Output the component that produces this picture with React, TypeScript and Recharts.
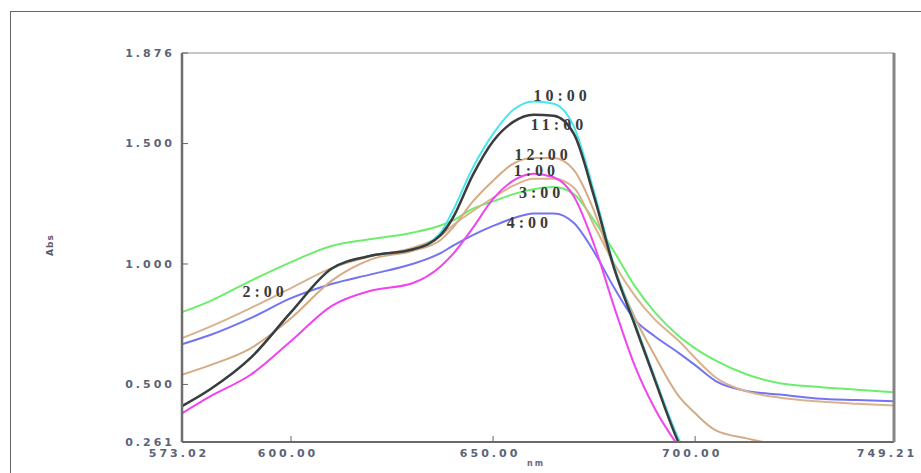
import { LineChart, Line, XAxis, YAxis, ReferenceDot } from "recharts";

const wavelength = [573.02, 580, 590, 600, 610, 620, 630, 637, 640, 645, 650, 655, 660, 665, 670, 675, 680, 685, 690, 696, 700, 705, 713, 721, 730, 740, 749.21];

const abs1000 = [0.41, 0.48, 0.61, 0.8, 0.98, 1.035, 1.06, 1.13, 1.22, 1.4, 1.54, 1.64, 1.675, 1.665, 1.57, 1.3, 0.99, 0.76, 0.53, 0.27, 0.14, null, null, null, null, null, null];
const abs1100 = [0.41, 0.48, 0.61, 0.8, 0.98, 1.035, 1.06, 1.12, 1.19, 1.37, 1.51, 1.59, 1.62, 1.615, 1.54, 1.28, 0.98, 0.75, 0.52, 0.255, 0.13, null, null, null, null, null, null];
const abs1200 = [0.54, 0.58, 0.65, 0.775, 0.93, 1.02, 1.054, 1.1, 1.15, 1.26, 1.346, 1.417, 1.44, 1.44, 1.39, 1.22, 0.98, 0.78, 0.62, 0.45, 0.38, 0.31, 0.275, 0.248, null, null, null];
const abs0100 = [0.38, 0.45, 0.54, 0.68, 0.825, 0.89, 0.92, 0.99, 1.04, 1.15, 1.27, 1.346, 1.375, 1.36, 1.28, 1.08, 0.82, 0.58, 0.4, 0.24, null, null, null, null, null, null, null];
const abs0200 = [0.692, 0.74, 0.817, 0.9, 0.983, 1.033, 1.067, 1.117, 1.16, 1.22, 1.275, 1.325, 1.354, 1.354, 1.317, 1.16, 1.0, 0.87, 0.77, 0.68, 0.61, 0.53, 0.47, 0.445, 0.43, 0.42, 0.413];
const abs0300 = [0.8, 0.846, 0.93, 1.008, 1.075, 1.104, 1.13, 1.16, 1.18, 1.23, 1.26, 1.29, 1.31, 1.32, 1.29, 1.18, 1.05, 0.91, 0.8, 0.7, 0.65, 0.6, 0.54, 0.505, 0.49, 0.478, 0.467];
const abs0400 = [0.667, 0.705, 0.775, 0.858, 0.917, 0.958, 1.0, 1.045, 1.075, 1.12, 1.158, 1.19, 1.21, 1.21, 1.17, 1.05, 0.9, 0.77, 0.7, 0.63, 0.58, 0.515, 0.472, 0.458, 0.442, 0.435, 0.43];

const xTicks = [573.02, 600, 650, 700, 749.21];
const yTicks = [0.261, 0.5, 1.0, 1.5, 1.876];

// curve name tags: text, wavelength, absorbance
const tagText = ["10:00", "11:00", "12:00", "1:00", "3:00", "4:00", "2:00"];
const tagX = [667.1, 666.3, 662.4, 660.7, 662.0, 659.0, 593.6];
const tagY = [1.70, 1.579, 1.454, 1.39, 1.296, 1.175, 0.888];

const series = [
  { key: "t0300", values: abs0300, color: "#6cee6c" },
  { key: "t0400", values: abs0400, color: "#7474f2" },
  { key: "t0200", values: abs0200, color: "#d9b38e" },
  { key: "t1200", values: abs1200, color: "#d6ab84" },
  { key: "t0100", values: abs0100, color: "#f044ee" },
  { key: "t1000", values: abs1000, color: "#48e6ee" },
  { key: "t1100", values: abs1100, color: "#3c3c3c" },
];

const rows = wavelength.map((w, i) => {
  const r: Record<string, number | null> = { w };
  series.forEach((s) => (r[s.key] = s.values[i]));
  return r;
});

const tickFont = {
  fontFamily: "DejaVu Sans",
  fontSize: 11,
  fontWeight: 700,
  fill: "#5c6378",
};

// bottom tick label, last one nudged in so it stays on the page
const XTick = (p: any) => {
  const last = p.index === xTicks.length - 1;
  return (
    <text
      x={p.x - (last ? 7 : 3)}
      y={p.y}
      dy="0.71em"
      textAnchor="middle"
      letterSpacing={3}
      {...tickFont}
    >
      {Number(p.payload.value).toFixed(2)}
    </text>
  );
};

export default function App() {
  return (
    <div style={{ position: "absolute", left: 0, top: 0, width: 921, height: 473, overflow: "hidden", background: "#fff" }}>
      <div style={{ position: "absolute", left: 10, top: 11, width: 1000, height: 1000, borderTop: "1px solid #666", borderLeft: "1px solid #666" }} />
      <LineChart width={921} height={473} data={rows} margin={{ top: 47, right: 17, bottom: 6, left: 122 }}>
        <XAxis
          dataKey="w"
          type="number"
          domain={[573.02, 749.21]}
          ticks={xTicks}
          interval={0}
          height={25}
          tick={XTick}
          tickSize={-6}
          tickMargin={13}
          tickLine={{ stroke: "#666" }}
          axisLine={{ stroke: "#6a6a6a", strokeWidth: 2 }}
        />
        <XAxis
          xAxisId="top"
          orientation="top"
          type="number"
          domain={[573.02, 749.21]}
          ticks={[600, 650, 700]}
          height={6}
          tick={false}
          tickSize={-5}
          tickLine={{ stroke: "#777" }}
          axisLine={{ stroke: "#b4b4b4", strokeWidth: 1.5 }}
        />
        <YAxis
          type="number"
          domain={[0.261, 1.876]}
          allowDataOverflow
          ticks={yTicks}
          interval={0}
          width={60}
          tickFormatter={(v: number) => v.toFixed(3)}
          tick={{ ...tickFont, letterSpacing: 3 }}
          tickSize={-6}
          tickMargin={13}
          tickLine={{ stroke: "#666" }}
          axisLine={{ stroke: "#6e6e6e", strokeWidth: 2.5 }}
        />
        <YAxis
          yAxisId="right"
          orientation="right"
          type="number"
          domain={[0.261, 1.876]}
          ticks={[0.5, 1.0, 1.5]}
          width={10}
          tick={false}
          tickSize={-6}
          tickLine={{ stroke: "#666" }}
          axisLine={{ stroke: "#858585", strokeWidth: 3 }}
        />
        {series.map((s) => (
          <Line
            key={s.key}
            type="monotone"
            dataKey={s.key}
            stroke={s.color}
            strokeWidth={s.key === "t1100" ? 2.5 : 2}
            dot={false}
            activeDot={false}
            isAnimationActive={false}
          />
        ))}
        {tagText.map((t, i) => (
          <ReferenceDot
            key={t}
            x={tagX[i]}
            y={tagY[i]}
            r={0}
            stroke="none"
            label={{
              value: t,
              position: "center",
              fontFamily: "Liberation Serif",
              fontSize: 16,
              fontWeight: 700,
              fill: "#3a3a3a",
              letterSpacing: 4,
            }}
          />
        ))}
      </LineChart>
      <div style={{ position: "absolute", left: 50, top: 245, transform: "translate(-50%, -50%) rotate(-90deg)", fontFamily: "DejaVu Sans", fontSize: 9, fontWeight: 700, color: "#5a5a6a", letterSpacing: 1 }}>
        Abs
      </div>
      <div style={{ position: "absolute", left: 536, top: 463, transform: "translate(-50%, -50%)", fontFamily: "DejaVu Sans", fontSize: 8, fontWeight: 700, color: "#6a6a7a", letterSpacing: 2 }}>
        nm
      </div>
    </div>
  );
}
